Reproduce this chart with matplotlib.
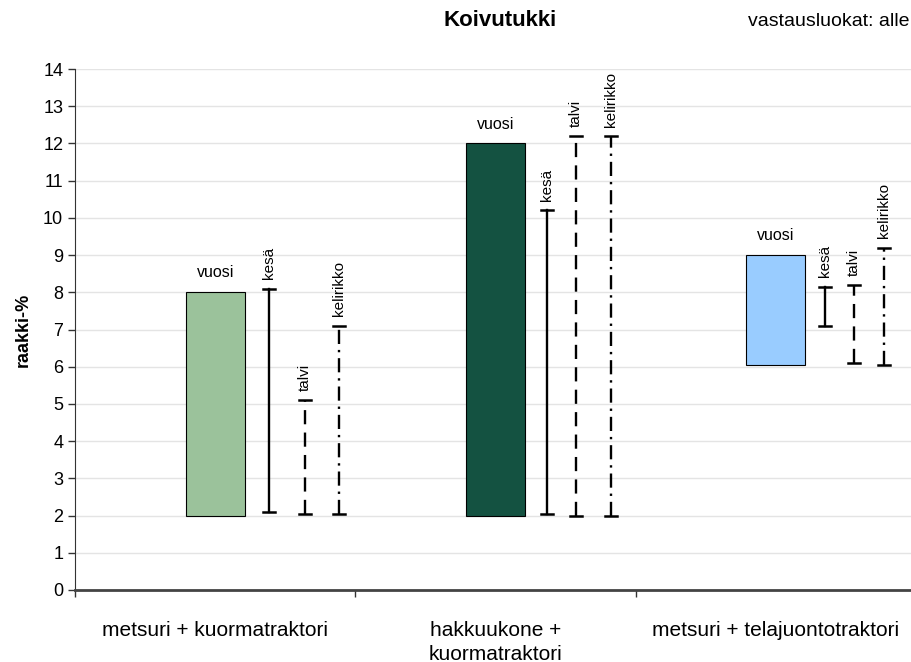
import matplotlib.pyplot as plt
import numpy as np

plt.rcParams['font.family'] = ['Liberation Sans', 'DejaVu Sans']

categories = ['metsuri + kuormatraktori', 'hakkuukone +\nkuormatraktori', 'metsuri + telajuontotraktori']

# vuosi: koko vuoden vaihteluväli (palkki)
vuosi_low = [2.0, 2.0, 6.05]
vuosi_high = [8.0, 12.0, 9.0]

# kausittaiset vaihteluvälit (pystyviivat)
kesa_low = [2.1, 2.05, 7.1]
kesa_high = [8.1, 10.2, 8.15]
talvi_low = [2.05, 2.0, 6.1]
talvi_high = [5.1, 12.2, 8.2]
keli_low = [2.05, 2.0, 6.05]
keli_high = [7.1, 12.2, 9.2]

bar_colors = ['#9bc29b', '#145241', '#99ccff']

# viivojen sijainti palkin keskeltä oikealle, ryhmittäin
kesa_off = [0.193, 0.184, 0.175]
talvi_off = [0.321, 0.287, 0.278]
keli_off = [0.442, 0.412, 0.385]

fig = plt.figure(figsize=(9.12, 6.62), dpi=100)
ax = fig.add_axes([75 / 912, 1 - 590 / 662, 841 / 912, 521 / 662])

x = np.arange(len(categories))
ax.bar(x, np.array(vuosi_high) - np.array(vuosi_low), bottom=vuosi_low, width=0.21,
       color=bar_colors, edgecolor='black', linewidth=0.8, zorder=3)
for xi, top in zip(x, vuosi_high):
    ax.text(xi, top + 0.32, 'vuosi', ha='center', va='bottom', fontsize=11.5, zorder=4)

seasons = [
    ('kesä', kesa_low, kesa_high, '-', kesa_off),
    ('talvi', talvi_low, talvi_high, (0, (6, 3.5)), talvi_off),
    ('kelirikko', keli_low, keli_high, (0, (6, 2.5, 1, 2.5)), keli_off),
]
for name, lo, hi, ls, offs in seasons:
    for xi, a, b, off in zip(x, lo, hi, offs):
        xp = xi + off
        ax.plot([xp, xp], [a, b], color='black', linewidth=1.7, linestyle=ls, zorder=3)
        ax.plot([xp - 0.021, xp + 0.021], [a, a], color='black', linewidth=1.8, zorder=3)
        ax.plot([xp - 0.021, xp + 0.021], [b, b], color='black', linewidth=1.8, zorder=3)
        ax.text(xp, b + 0.25, name, rotation=90, ha='center', va='bottom', fontsize=11, zorder=4)

ax.set_xlim(-0.5, 2.5)
ax.set_ylim(0, 14)
ax.set_yticks(range(0, 15))
ax.yaxis.grid(True, color='#e4e4e4', linewidth=1, zorder=0)
ax.set_axisbelow(True)

ax.set_xticks(x)
ax.set_xticklabels(categories, fontsize=15, linespacing=1.35)
ax.tick_params(axis='x', which='major', length=0, pad=22)
ax.set_xticks([-0.5, 0.5, 1.5, 2.5], minor=True)
ax.tick_params(axis='x', which='minor', length=5, width=1, color='#333333')
ax.tick_params(axis='y', length=5, width=1, labelsize=13, color='#333333')

for s in ['top', 'right']:
    ax.spines[s].set_visible(False)
ax.spines['left'].set_color('#333333')
ax.spines['bottom'].set_color('#444444')
ax.spines['bottom'].set_linewidth(2)

ax.set_ylabel('raakki-%', fontsize=13, fontweight='bold', labelpad=8)

fig.text(500 / 912, 1 - 21 / 662, 'Koivutukki', ha='center', va='center', fontsize=16, fontweight='bold')
fig.text(748 / 912, 1 - 21 / 662, 'vastausluokat: alle', ha='left', va='center', fontsize=14)

fig.savefig('out.png', dpi=100)
